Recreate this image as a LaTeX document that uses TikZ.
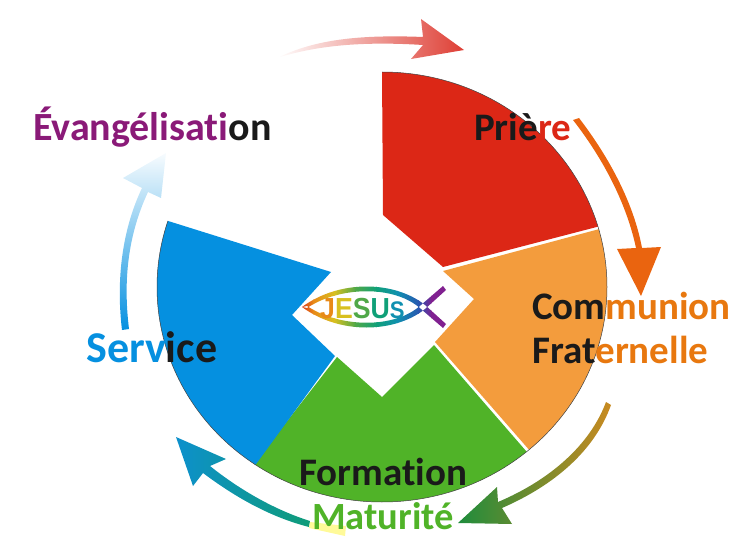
\documentclass[tikz,border=0pt]{standalone}
\usepackage{fontspec}
\usetikzlibrary{calc}
\setmainfont{Carlito}[Ligatures=CommonOff]
\newfontfamily\fishfont{Liberation Sans}
\definecolor{sectred}{HTML}{DC2716}
\definecolor{sectorange}{HTML}{F39C3D}
\definecolor{sectgreen}{HTML}{50B328}
\definecolor{sectblue}{HTML}{0590E0}
\definecolor{inkdark}{HTML}{1A1A1A}
\definecolor{inkpurple}{HTML}{8A1A78}
\definecolor{inkorange}{HTML}{E8780F}
\definecolor{arrowred}{HTML}{DE3E34}
\definecolor{arroworange}{HTML}{EA640F}
\definecolor{arrowgold}{HTML}{C98A20}
\definecolor{arrowolive}{HTML}{6F9030}
\definecolor{arrowgreen}{HTML}{1E8C3C}
\definecolor{arrowsky}{HTML}{0D90CC}
\definecolor{arrowteal}{HTML}{0F9C78}
\definecolor{fishred}{HTML}{D83018}
\definecolor{fishorange}{HTML}{E88A18}
\definecolor{fishyellow}{HTML}{D8C020}
\definecolor{fishgreen}{HTML}{50A848}
\definecolor{fishteal}{HTML}{10A078}
\definecolor{fishcyan}{HTML}{1090B0}
\definecolor{fishblue}{HTML}{2858B0}
\definecolor{fishviolet}{HTML}{802090}
\begin{document}
\begin{tikzpicture}[x=1pt,y=-1pt]
	\tikzstyle{every node}+=[inner sep=0pt,anchor=base west]
	\tikzset{word/.style={font=\fontsize{#1}{#1}\bfseries\selectfont,text=inkdark}}
	\tikzstyle{rim}=[draw=black!75,line width=0.5pt]
	\useasboundingbox (0,0) rectangle (739,548);
	\coordinate (hub) at (382,287);
	\coordinate (redtop) at ($(hub)+(-90:225 and 215)$);
	% sectors
	\fill [sectred] (redtop) -- (383,215) -- (443,267) -- ($(hub)+(-16.3:225 and 215)$) arc [start angle=-16.3,end angle=-90,x radius=225,y radius=215] -- cycle;
	\fill [sectorange] (443,271) -- (474,299) -- (435,342) -- ($(hub)+(49.2:225 and 215)$) arc [start angle=49.2,end angle=-15.6,x radius=225,y radius=215] -- cycle;
	\fill [sectgreen] (434,345) -- (382,397) -- (337,357) -- ($(hub)+(124.7:225 and 215)$) arc [start angle=124.7,end angle=50,x radius=225,y radius=215] -- cycle;
	\fill [sectblue] (331,272) -- (292,315) -- (335,356) -- ($(hub)+(124.2:225 and 215)$) arc [start angle=124.2,end angle=197.9,x radius=225,y radius=215] -- cycle;
	\draw [rim] (redtop) arc [start angle=-90,end angle=197.9,x radius=225,y radius=215];
	% arrows
	\shade [left color=white,right color=arrowred] (277,58) .. controls (310,42) and (350,34) .. (423,37) -- (421,19) -- (464,50) -- (411,59) -- (423,45) .. controls (360,41) and (315,46) .. (277,58) -- cycle;
	\fill [arroworange] (579,118) .. controls (615,165) and (635,210) .. (642,248) -- (661,247) -- (641,296) -- (617,249) -- (636,248) .. controls (628,210) and (608,165) .. (573,120) -- cycle;
	\shade [left color=arrowgreen,middle color=arrowolive,right color=arrowgold] (611,405) .. controls (595,450) and (555,485) .. (502,508) -- (512,524) -- (458,523) -- (497,487) -- (498,502) .. controls (550,480) and (590,445) .. (606,402) -- cycle;
	\shade [left color=arrowsky,right color=arrowteal] (310,521) .. controls (275,510) and (240,490) .. (210,466) -- (226,459) -- (176,437) -- (193,486) -- (203,473) .. controls (235,497) and (270,517) .. (309,527) -- cycle;
	\fill [yellow!40!white] (310,522) -- (346,526) -- (345,536) -- (309,528) -- cycle;
	\shade [top color=sectblue!3!white,middle color=sectblue!35!white,bottom color=sectblue] (129,329) .. controls (123,280) and (128,235) .. (148,192) -- (161,198) -- (166,153) -- (123,178) -- (142,188) .. controls (122,230) and (116,280) .. (122,330) -- cycle;
	% fish
	\begin{scope}
		\clip (302,307) .. controls (340,279) and (395,281) .. (425,305) -- (446,324) -- (443,328) -- (421,309) .. controls (395,285) and (340,286) .. (307,308) -- cycle
			(302,307) .. controls (340,335) and (395,333) .. (425,309) -- (446,290) -- (443,286) -- (421,305) .. controls (395,329) and (340,328) .. (307,306) -- cycle;
		\foreach \xa/\xb/\ca/\cb in {300/314/fishred/fishorange,313/335/fishorange/fishyellow,334/356/fishyellow/fishgreen,355/377/fishgreen/fishteal,376/398/fishteal/fishcyan,397/419/fishcyan/fishblue,418/432/fishblue/fishviolet,431/448/fishviolet/fishviolet}
			\shade [left color=\ca,right color=\cb] (\xa,280) rectangle (\xb,334);
	\end{scope}
	\node [xscale=0.92] (jesus) at (320,318) {\fishfont\bfseries\fontsize{29}{29}\selectfont\textcolor{fishorange}{J}\textcolor{fishyellow}{E}\textcolor{fishgreen}{S}\textcolor{fishteal}{U}\textcolor{fishcyan}{\fontsize{24}{24}\selectfont S}};
	% labels
	\node [word=39] (priere) at (474,141) {Priè\textcolor{sectred}{re}};
	\node [word=39] (communion) at (532,319) {Com\textcolor{inkorange}{munion}};
	\node [word=39] (fraternelle) at (532,363) {Frat\textcolor{inkorange}{ernelle}};
	\node [word=39] (formation) at (299,485) {Formation};
	\node [word=38.5,text=sectgreen] (maturite) at (312,529) {Maturité};
	\node [word=44] (service) at (86,362) {\textcolor{sectblue}{Serv}ice};
	\node [word=40] (evangelisation) at (33,141) {\textcolor{inkpurple}{Évangélisati}on};
\end{tikzpicture}
\end{document}
